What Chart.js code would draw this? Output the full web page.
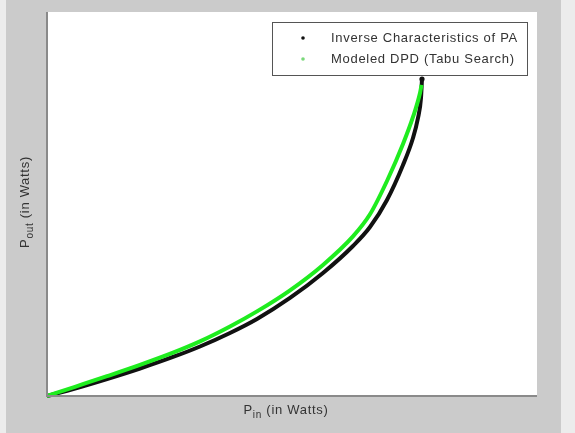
<!DOCTYPE html>
<html>
<head>
<meta charset="utf-8">
<script src="https://cdn.jsdelivr.net/npm/chart.js@4/dist/chart.umd.min.js"></script>
<style>
  html, body { margin: 0; padding: 0; background: #ececec; }
  canvas { display: block; }
</style>
</head>
<body>
<canvas id="c" width="575" height="433"></canvas>
<script>
// Series names and axis titles (main text, subscript, trailing text)
const seriesNames = ['Inverse Characteristics of PA', 'Modeled DPD (Tabu Search)'];
const xTitleParts = ['P', 'in', ' (in Watts)'];
const yTitleParts = ['P', 'out', ' (in Watts)'];

// Inverse PA characteristic: P_in vs P_out samples
const inverseX = [0, 0.0743, 0.1592, 0.2467, 0.3343, 0.4059, 0.4855, 0.5571, 0.6447, 0.7322, 0.8118, 0.8569, 0.9020, 0.9445, 0.9710, 0.9843, 0.9922, 0.9949];
const inverseY = [0, 0.0234, 0.0531, 0.0859, 0.1219, 0.1547, 0.1969, 0.2406, 0.3063, 0.3844, 0.4688, 0.5281, 0.6125, 0.7219, 0.8063, 0.8688, 0.9313, 0.9906];

// Modeled DPD curve from the Tabu search fit
const modelX = [0, 0.0743, 0.1592, 0.2467, 0.3343, 0.4059, 0.4855, 0.5571, 0.6447, 0.7322, 0.8118, 0.8569, 0.9020, 0.9445, 0.9710, 0.9896, 0.9936];
const modelY = [0, 0.0288, 0.0619, 0.0972, 0.1353, 0.1706, 0.2172, 0.2644, 0.3303, 0.4097, 0.4988, 0.5678, 0.6719, 0.7875, 0.8719, 0.9469, 0.9719];

const toPoints = (xs, ys) => xs.map((x, i) => ({ x: x, y: ys[i] }));

const BLACK = '#111111';
const GREEN = '#1fec1f';
const TEXT_FONT = '13px "Liberation Sans", Arial, sans-serif';
const SUB_FONT = '10px "Liberation Sans", Arial, sans-serif';

function drawSubscripted(ctx, parts, cx, cy) {
  ctx.font = TEXT_FONT;
  const w0 = ctx.measureText(parts[0]).width;
  const w2 = ctx.measureText(parts[2]).width;
  ctx.font = SUB_FONT;
  const w1 = ctx.measureText(parts[1]).width;
  let x = cx - (w0 + w1 + w2) / 2;
  ctx.textBaseline = 'middle';
  ctx.textAlign = 'left';
  ctx.font = TEXT_FONT;
  ctx.fillText(parts[0], x, cy);
  x += w0;
  ctx.font = SUB_FONT;
  ctx.fillText(parts[1], x, cy + 5);
  x += w1;
  ctx.font = TEXT_FONT;
  ctx.fillText(parts[2], x, cy);
}

const figurePlugin = {
  id: 'figureFrame',
  beforeDraw(chart) {
    const { ctx, chartArea: a } = chart;
    ctx.save();
    ctx.fillStyle = '#ececec';
    ctx.fillRect(0, 0, chart.width, chart.height);
    ctx.fillStyle = '#cbcbcb';
    ctx.fillRect(6, 0, 555, chart.height);
    ctx.fillStyle = '#ffffff';
    ctx.fillRect(a.left, a.top, a.right - a.left, a.bottom - a.top);
    ctx.restore();
  },
  afterDraw(chart) {
    const { ctx, chartArea: a } = chart;
    ctx.save();
    // axis lines (left and bottom only)
    ctx.fillStyle = '#8a8a8a';
    ctx.fillRect(a.left - 1, a.top, 2, a.bottom - a.top + 1);
    ctx.fillRect(a.left - 1, a.bottom - 1, a.right - a.left + 1, 2);

    // legend box
    const bx = 272, by = 22, bw = 255, bh = 53;
    ctx.fillStyle = '#ffffff';
    ctx.fillRect(bx, by, bw, bh);
    ctx.strokeStyle = '#555555';
    ctx.lineWidth = 1;
    ctx.strokeRect(bx + 0.5, by + 0.5, bw, bh);
    const rows = [by + 16, by + 37];
    const dotColors = [BLACK, '#7ad87a'];
    ctx.letterSpacing = '0.7px';
    ctx.font = TEXT_FONT;
    ctx.textBaseline = 'middle';
    ctx.textAlign = 'left';
    chart.data.datasets.forEach((ds, i) => {
      ctx.fillStyle = dotColors[i];
      ctx.beginPath();
      ctx.arc(303, rows[i], 1.8, 0, Math.PI * 2);
      ctx.fill();
      ctx.fillStyle = '#333333';
      ctx.fillText(ds.label, 331, rows[i]);
    });

    // axis titles
    ctx.fillStyle = '#333333';
    drawSubscripted(ctx, xTitleParts, (a.left + a.right) / 2 - 6, 410);
    ctx.translate(25, 202);
    ctx.rotate(-Math.PI / 2);
    drawSubscripted(ctx, yTitleParts, 0, 0);
    ctx.restore();
  }
};

new Chart(document.getElementById('c'), {
  type: 'scatter',
  data: {
    datasets: [
      {
        label: seriesNames[0],
        data: toPoints(inverseX, inverseY),
        showLine: true,
        borderColor: BLACK,
        backgroundColor: BLACK,
        borderWidth: 4,
        pointRadius: (c) => (c.dataIndex === inverseX.length - 1 ? 2.6 : 0),
        pointBorderWidth: 0,
        cubicInterpolationMode: 'monotone',
        clip: 4,
        order: 1
      },
      {
        label: seriesNames[1],
        data: toPoints(modelX, modelY),
        showLine: true,
        borderColor: GREEN,
        backgroundColor: GREEN,
        borderWidth: 4,
        pointRadius: 0,
        cubicInterpolationMode: 'monotone',
        clip: 4,
        order: 0
      }
    ]
  },
  options: {
    responsive: false,
    animation: false,
    devicePixelRatio: 1,
    layout: { padding: { left: 47, top: 12, right: 38, bottom: 37 } },
    scales: {
      x: { type: 'linear', display: false, min: 0, max: 1.3 },
      y: { type: 'linear', display: false, min: 0, max: 1.2 }
    },
    plugins: {
      legend: { display: false },
      tooltip: { enabled: false }
    }
  },
  plugins: [figurePlugin]
});
</script>
</body>
</html>
